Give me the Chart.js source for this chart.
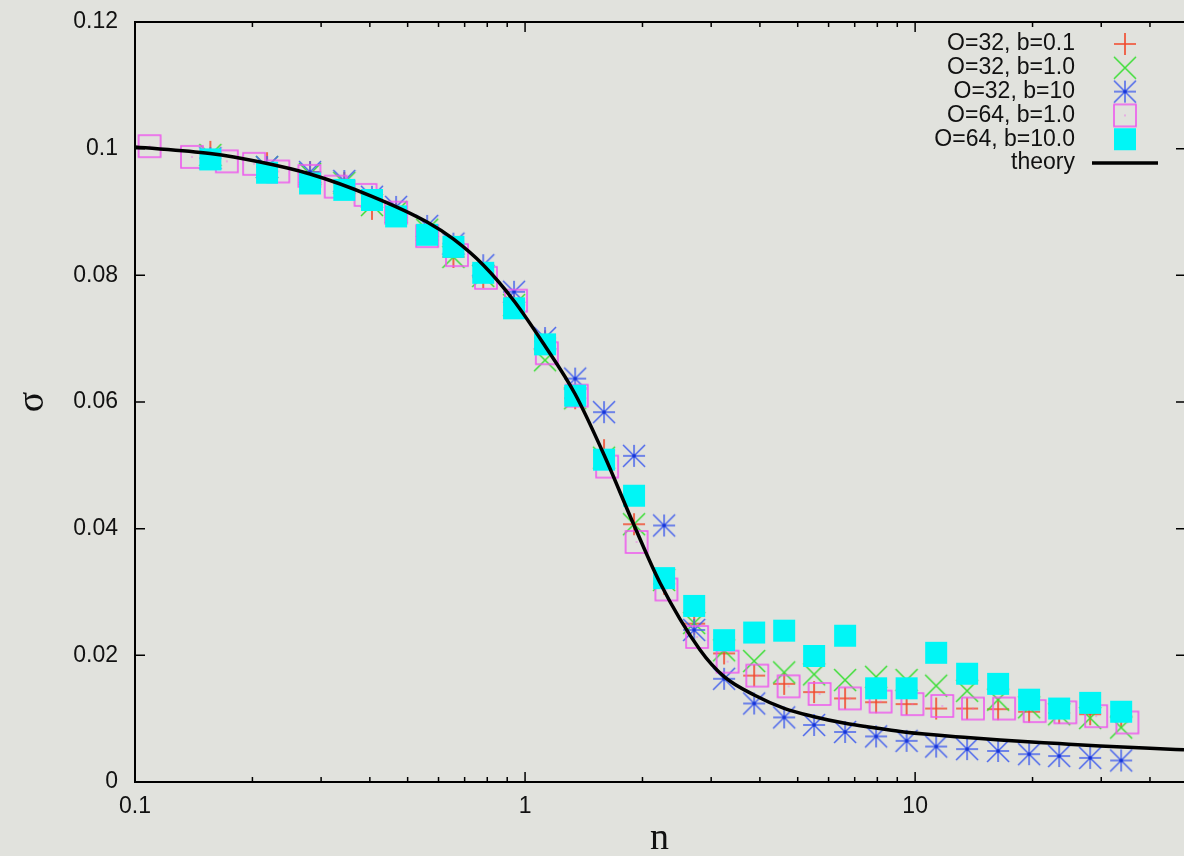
<!DOCTYPE html>
<html><head><meta charset="utf-8">
<script src="https://cdn.jsdelivr.net/npm/chart.js@4/dist/chart.umd.min.js"></script>
<style>
html,body{margin:0;padding:0;background:#e1e2dd;overflow:hidden}
#wrap{position:relative;width:1184px;height:856px}
</style></head><body>
<div id="wrap"><canvas id="c" width="1184" height="856"></canvas></div>
<script>
// ---- data ----
const nGrid = [0.156, 0.218, 0.281, 0.344, 0.405, 0.467, 0.561, 0.655, 0.781, 0.937, 1.125, 1.344, 1.594, 1.903, 2.272, 2.713, 3.238, 3.866, 4.615, 5.508, 6.614, 7.943, 9.51, 11.32, 13.59, 16.32, 19.60, 23.40, 28.10, 33.75];
const sigmaO32b01 = [0.0995, 0.0977, 0.0963, 0.0946, 0.0905, 0.0897, 0.0868, 0.0829, 0.0797, 0.0753, 0.0696, 0.0606, 0.0524, 0.0407, 0.0313, 0.0250, 0.0203, 0.0168, 0.0155, 0.0142, 0.0132, 0.0126, 0.0123, 0.0116, 0.0116, 0.0115, 0.0111, 0.0109, 0.0107, 0.0104];
const sigmaO32b1 = [0.0990, 0.0971, 0.0960, 0.0946, 0.0911, 0.0900, 0.0872, 0.0829, 0.0799, 0.0753, 0.0666, 0.0606, 0.0512, 0.0407, 0.0319, 0.0251, 0.0208, 0.0191, 0.0173, 0.0170, 0.0161, 0.0166, 0.0161, 0.0152, 0.0144, 0.0130, 0.0118, 0.0107, 0.0101, 0.0086];
const sigmaO32b10 = [0.0985, 0.0971, 0.0963, 0.0949, 0.0924, 0.0908, 0.0878, 0.0850, 0.0816, 0.0774, 0.0701, 0.0637, 0.0584, 0.0515, 0.0405, 0.0240, 0.0163, 0.0124, 0.0102, 0.0090, 0.0079, 0.0072, 0.0065, 0.0056, 0.0052, 0.0049, 0.0044, 0.0041, 0.0038, 0.0034];
const sigmaO64b10 = [0.0983, 0.0962, 0.0945, 0.0935, 0.0919, 0.0893, 0.0864, 0.0845, 0.0804, 0.0748, 0.0691, 0.0610, 0.0509, 0.0452, 0.0322, 0.0278, 0.0224, 0.0236, 0.0239, 0.0199, 0.0231, 0.0148, 0.0148, 0.0204, 0.0171, 0.0155, 0.0130, 0.0116, 0.0125, 0.0111];
const nO64b1 = [0.109, 0.140, 0.172, 0.202, 0.233, 0.280, 0.327, 0.390, 0.467, 0.561, 0.669, 0.794, 0.948, 1.137, 1.357, 1.623, 1.932, 2.303, 2.761, 3.305, 3.938, 4.738, 5.690, 6.805, 8.156, 9.842, 11.74, 14.07, 16.91, 20.25, 24.27, 29.11, 35.01];
const sigmaO64b1 = [0.1004, 0.0987, 0.0980, 0.0976, 0.0964, 0.0957, 0.0940, 0.0927, 0.0899, 0.0862, 0.0832, 0.0796, 0.0760, 0.0677, 0.0610, 0.0498, 0.0379, 0.0304, 0.0229, 0.0190, 0.0168, 0.0151, 0.0139, 0.0132, 0.0127, 0.0123, 0.0120, 0.0116, 0.0116, 0.0112, 0.0110, 0.0104, 0.0094];
const nTheory = [0.1, 0.1557, 0.2092, 0.281, 0.4048, 0.5607, 0.6545, 0.7813, 0.9371, 1.112, 1.3436, 1.5945, 1.892, 2.219, 2.81, 3.238, 3.866, 4.615, 5.508, 6.614, 7.943, 9.48, 13.59, 16.52, 23.4, 29.82, 42.48, 48.9];
const sigmaTheory = [0.10026, 0.09924, 0.09789, 0.09600, 0.09248, 0.08842, 0.08574, 0.08163, 0.07595, 0.06932, 0.06126, 0.05163, 0.04089, 0.03142, 0.02084, 0.01663, 0.01374, 0.01164, 0.01031, 0.00927, 0.00853, 0.00785, 0.00703, 0.00663, 0.00606, 0.00568, 0.00524, 0.00508];
const seriesLabels = ['O=32, b=0.1', 'O=32, b=1.0', 'O=32, b=10', 'O=64, b=1.0', 'O=64, b=10.0', 'theory'];
const xMajorTicks = [0.1, 1, 10];
const xTickLabels = ['0.1', '1', '10'];
const xMinorTicks = [0.2,0.3,0.4,0.5,0.6,0.7,0.8,0.9,2,3,4,5,6,7,8,9,20,30,40];
const yTicks = [0, 0.02, 0.04, 0.06, 0.08, 0.1, 0.12];
const yTickLabels = ['0', '0.02', '0.04', '0.06', '0.08', '0.1', '0.12'];
const xMin = 0.1, xMax = 48.9, yMin = 0, yMax = 0.12;

// ---- marker images ----
function makeMarker(kind, color, size, lw) {
  const s = size + 4;
  const c = document.createElement('canvas'); c.width = s; c.height = s;
  const g = c.getContext('2d'); const m = s / 2, h = size / 2;
  g.strokeStyle = color; g.fillStyle = color; g.lineWidth = lw;
  g.beginPath();
  if (kind === 'plus' || kind === 'star') { g.moveTo(m - h, m); g.lineTo(m + h, m); g.moveTo(m, m - h); g.lineTo(m, m + h); }
  if (kind === 'x' || kind === 'star') { g.moveTo(m - h, m - h); g.lineTo(m + h, m + h); g.moveTo(m - h, m + h); g.lineTo(m + h, m - h); }
  if (kind === 'box') { g.rect(m - h, m - h, size, size); }
  if (kind !== 'fill') g.stroke();
  if (kind === 'fill') g.fillRect(m - h, m - h, size, size);
  if (kind === 'star') { g.fillStyle = '#1634d8'; g.beginPath(); g.arc(m, m, 1.8, 0, 2 * Math.PI); g.fill(); }
  if (kind === 'box') { g.fillRect(m - 0.6, m - 0.6, 1.2, 1.2); }
  return c;
}
const mRed = makeMarker('plus', 'rgb(242,72,42)', 22, 1.6);
const mGreen = makeMarker('x', 'rgb(58,222,52)', 22, 1.5);
const mBlue = makeMarker('star', 'rgb(72,100,236)', 22, 1.5);
const mPink = makeMarker('box', 'rgb(238,88,238)', 22, 1.6);
const mCyan = makeMarker('fill', 'rgb(0,246,246)', 22, 1);
const markers = [mRed, mGreen, mBlue, mPink, mCyan];

const toPts = (xs, ys) => xs.map((v, i) => ({x: v, y: ys[i]}));
const pointDs = (label, xs, ys, img, order) => ({
  label, data: toPts(xs, ys), pointStyle: img, pointRadius: 11, pointHoverRadius: 11,
  showLine: false, order, backgroundColor: 'transparent', borderColor: 'transparent'
});

const SANS = "'Liberation Sans', Arial, Helvetica, sans-serif";
const SERIF = "'Liberation Serif', 'Times New Roman', serif";

const noPad = s => { s.paddingLeft = 0; s.paddingRight = 0; s.paddingTop = 0; s.paddingBottom = 0; };

const inwardTicks = {
  id: 'inwardTicks',
  afterDatasetsDraw(chart) {
    const {ctx, chartArea: a, scales: {x, y}} = chart;
    ctx.save(); ctx.strokeStyle = '#000'; ctx.lineWidth = 1.5; ctx.beginPath();
    const xt = (v, len) => { const px = x.getPixelForValue(v);
      ctx.moveTo(px, a.bottom); ctx.lineTo(px, a.bottom - len);
      ctx.moveTo(px, a.top); ctx.lineTo(px, a.top + len); };
    xMajorTicks.forEach(v => xt(v, 10));
    xMinorTicks.forEach(v => xt(v, 5));
    yTicks.forEach(v => { const py = y.getPixelForValue(v);
      ctx.moveTo(a.left, py); ctx.lineTo(a.left + 10, py);
      ctx.moveTo(a.right, py); ctx.lineTo(a.right - 8, py); });
    ctx.stroke(); ctx.restore();
  }
};

const keyBox = {
  id: 'keyBox',
  afterDraw(chart) {
    const ctx = chart.ctx;
    ctx.save();
    ctx.font = '23px ' + SANS; ctx.fillStyle = '#111'; ctx.textAlign = 'right'; ctx.textBaseline = 'middle';
    const textRight = 1075, symX = 1125, top = 44, step = 23.8;
    seriesLabels.forEach((lab, i) => {
      const yy = top + i * step;
      ctx.fillText(lab, textRight, yy);
      if (i < markers.length) {
        const m = markers[i];
        ctx.drawImage(m, symX - m.width / 2, yy - m.height / 2);
      } else {
        ctx.strokeStyle = '#000'; ctx.lineWidth = 3.5;
        ctx.beginPath(); ctx.moveTo(1092, yy); ctx.lineTo(1158, yy); ctx.stroke();
      }
    });
    ctx.restore();
  }
};

new Chart(document.getElementById('c'), {
  type: 'scatter',
  data: {
    datasets: [
      {label: seriesLabels[5], data: toPts(nTheory, sigmaTheory), showLine: true, borderColor: '#000', borderWidth: 3.5,
       pointRadius: 0, pointHoverRadius: 0, cubicInterpolationMode: 'monotone', order: 0, fill: false},
      pointDs(seriesLabels[4], nGrid, sigmaO64b10, mCyan, 1),
      pointDs(seriesLabels[3], nO64b1, sigmaO64b1, mPink, 2),
      pointDs(seriesLabels[2], nGrid, sigmaO32b10, mBlue, 3),
      pointDs(seriesLabels[1], nGrid, sigmaO32b1, mGreen, 4),
      pointDs(seriesLabels[0], nGrid, sigmaO32b01, mRed, 5)
    ]
  },
  options: {
    responsive: false, animation: false, devicePixelRatio: 1,
    layout: {padding: 0, autoPadding: false},
    plugins: {legend: {display: false}, tooltip: {enabled: false}},
    scales: {
      x: {
        type: 'logarithmic', position: 'bottom', min: xMin, max: xMax,
        afterBuildTicks: s => { s.ticks = xMajorTicks.map(v => ({value: v, major: true})); },
        afterFit: s => { s.height = 74; noPad(s); },
        grid: {display: false, drawTicks: false},
        border: {display: true, color: '#000', width: 2},
        ticks: {autoSkip: false, maxRotation: 0, padding: 11, color: '#111', font: {family: SANS, size: 23},
                callback: (v, i) => xTickLabels[i]},
        title: {display: true, text: 'n', color: '#111', font: {family: SERIF, size: 38, lineHeight: 0.9}, padding: {top: 0, bottom: 0}}
      },
      x2: {
        type: 'logarithmic', position: 'top', min: xMin, max: xMax,
        afterFit: s => { s.height = 22; noPad(s); },
        grid: {display: false, drawTicks: false},
        border: {display: true, color: '#000', width: 2},
        ticks: {display: false}
      },
      y: {
        type: 'linear', position: 'left', min: yMin, max: yMax,
        afterBuildTicks: s => { s.ticks = yTicks.map(v => ({value: v})); },
        afterFit: s => { s.width = 135; noPad(s); },
        grid: {display: false, drawTicks: false},
        border: {display: true, color: '#000', width: 2},
        ticks: {padding: 17, color: '#111', font: {family: SANS, size: 23}, callback: (v, i) => yTickLabels[i]},
        title: {display: true, text: 'σ', color: '#111', font: {family: SERIF, size: 38, lineHeight: 0.9}, padding: {top: 16, bottom: 0}}
      }
    }
  },
  plugins: [inwardTicks, keyBox]
});
</script>
</body></html>
